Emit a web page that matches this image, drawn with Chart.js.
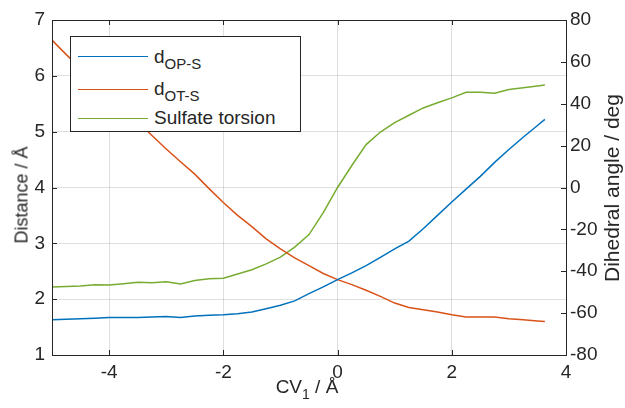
<!DOCTYPE html>
<html>
<head>
<meta charset="utf-8">
<script src="https://cdn.jsdelivr.net/npm/chart.js@4.4.1/dist/chart.umd.min.js"></script>
<style>
  body { margin: 0; background: #fff; }
  #wrap { position: relative; width: 625px; height: 408px; font-family: "Liberation Sans", Arial, Helvetica, sans-serif; color: #262626; }
  canvas { position: absolute; left: 0; top: 0; }
  .ttl { position: absolute; white-space: nowrap; font-size: 18px; transform: translate(-50%, -50%); }
  .rot { transform: translate(-50%, -50%) rotate(-90deg); }
  #legend { position: absolute; left: 70px; top: 36px; width: 229px; height: 94px; border: 1px solid #262626; background: #fff; }
  .row { position: absolute; left: 83px; font-size: 19px; line-height: 20px; white-space: nowrap; }
  .row sub { font-size: 15px; vertical-align: -6px; line-height: 0; }
  .swatch { position: absolute; left: 7px; width: 70px; height: 0; border-top: 1.5px solid; }
</style>
</head>
<body>
<div id="wrap">
  <canvas id="chart" width="625" height="408"></canvas>
  <div class="ttl rot" style="left:22px; top:195px;">Distance / Å</div>
  <div class="ttl rot" style="left:612px; top:188px; font-size:21px;">Dihedral angle / deg</div>
  <div class="ttl" style="left:307px; top:389px; font-size:19px;">CV<sub style="font-size:14px; vertical-align:-6px;">1</sub> / Å</div>
  <div id="legend">
    <div class="swatch" style="top:19px; border-color:#0072BD;"></div>
    <div class="row" style="top:10px;">d<sub>OP-S</sub></div>
    <div class="swatch" style="top:52px; border-color:#D95319;"></div>
    <div class="row" style="top:42px;">d<sub>OT-S</sub></div>
    <div class="swatch" style="top:81px; border-color:#77AC30;"></div>
    <div class="row" style="top:71px;">Sulfate torsion</div>
  </div>
</div>
<script>
// CV1 values (Å), shared by all three curves
const cv = [-5, -4.75, -4.5, -4.25, -4, -3.75, -3.5, -3.25, -3, -2.75, -2.5, -2.25,
  -2, -1.75, -1.5, -1.25, -1, -0.75, -0.5, -0.25, 0, 0.25, 0.5, 0.75,
  1, 1.25, 1.5, 1.75, 2, 2.25, 2.5, 2.75, 3, 3.25, 3.5, 3.63];

// d OP-S (Å)
const dOPS = [1.63, 1.64, 1.65, 1.66, 1.67, 1.67, 1.67, 1.68, 1.69, 1.67, 1.70, 1.71,
  1.72, 1.74, 1.77, 1.83, 1.89, 1.97, 2.10, 2.22, 2.35, 2.47, 2.60, 2.75,
  2.90, 3.04, 3.26, 3.50, 3.74, 3.97, 4.20, 4.45, 4.68, 4.90, 5.11, 5.22];

// d OT-S (Å)
const dOTS = [6.64, 6.38, 6.14, 5.90, 5.66, 5.42, 5.18, 4.93, 4.69, 4.46, 4.24, 3.98,
  3.73, 3.50, 3.30, 3.08, 2.90, 2.74, 2.60, 2.46, 2.35, 2.26, 2.16, 2.05,
  1.93, 1.85, 1.81, 1.77, 1.72, 1.68, 1.68, 1.68, 1.65, 1.63, 1.61, 1.60];

// sulfate torsion (deg), right axis
const torsion = [-47.5, -47.3, -47.0, -46.5, -46.6, -46.0, -45.3, -45.5, -45.0, -46.1, -44.4, -43.6,
  -43.3, -41.3, -39.3, -36.5, -33.3, -28.5, -22.5, -12.0, 0.0, 10.5, 20.5, 26.5,
  31.0, 34.5, 38.0, 40.5, 42.8, 45.5, 45.5, 45.0, 46.8, 47.6, 48.5, 49.0];

const xTicks = [-4, -2, 0, 2, 4];
const leftTicks = [1, 2, 3, 4, 5, 6, 7];
const rightTicks = [-80, -60, -40, -20, 0, 20, 40, 60, 80];

const axisColor = "#262626";
const gridColor = "rgba(38,38,38,0.15)";
const font = { family: '"Liberation Sans", Arial, Helvetica, sans-serif', size: 19 };

function pts(ys) {
  return cv.map((x, i) => ({ x: x, y: ys[i] }));
}

// box round the axes plus inward tick marks, like MATLAB
const boxPlugin = {
  id: "box",
  afterDatasetsDraw(chart) {
    const { ctx, chartArea: a, scales } = chart;
    const len = 5;
    ctx.save();
    ctx.strokeStyle = axisColor;
    ctx.lineWidth = 1;
    ctx.beginPath();
    scales.x.ticks.forEach(t => {
      const px = Math.round(scales.x.getPixelForValue(t.value)) + 0.5;
      ctx.moveTo(px, a.bottom); ctx.lineTo(px, a.bottom - len);
      ctx.moveTo(px, a.top); ctx.lineTo(px, a.top + len);
    });
    scales.y.ticks.forEach(t => {
      const py = Math.round(scales.y.getPixelForValue(t.value)) + 0.5;
      ctx.moveTo(a.left, py); ctx.lineTo(a.left + len, py);
    });
    scales.y1.ticks.forEach(t => {
      const py = Math.round(scales.y1.getPixelForValue(t.value)) + 0.5;
      ctx.moveTo(a.right, py); ctx.lineTo(a.right - len, py);
    });
    ctx.stroke();
    ctx.strokeRect(Math.round(a.left) + 0.5, Math.round(a.top) + 0.5,
      Math.round(a.right - a.left), Math.round(a.bottom - a.top));
    ctx.restore();
  }
};

new Chart(document.getElementById("chart"), {
  type: "line",
  data: {
    datasets: [
      { label: "dOP-S", data: pts(dOPS), borderColor: "#0072BD", yAxisID: "y" },
      { label: "dOT-S", data: pts(dOTS), borderColor: "#D95319", yAxisID: "y" },
      { label: "Sulfate torsion", data: pts(torsion), borderColor: "#77AC30", yAxisID: "y1" }
    ]
  },
  options: {
    responsive: false,
    animation: false,
    layout: { padding: { top: 20, left: 0, right: 0, bottom: 0 } },
    elements: {
      point: { radius: 0 },
      line: { borderWidth: 1.5, tension: 0, fill: false }
    },
    plugins: { legend: { display: false }, tooltip: { enabled: false } },
    scales: {
      x: {
        type: "linear",
        min: -5,
        max: 4,
        afterBuildTicks: s => { s.ticks = xTicks.map(v => ({ value: v })); },
        afterFit: s => { s.height = 53; },
        border: { display: false },
        grid: { color: gridColor, drawTicks: false },
        ticks: { font: font, color: axisColor, padding: 6, maxRotation: 0 }
      },
      y: {
        position: "left",
        min: 1,
        max: 7,
        afterBuildTicks: s => { s.ticks = leftTicks.map(v => ({ value: v })); },
        afterFit: s => { s.width = 52; },
        border: { display: false },
        grid: { color: gridColor, drawTicks: false },
        ticks: { font: font, color: axisColor, padding: 7 }
      },
      y1: {
        position: "right",
        min: -80,
        max: 80,
        afterBuildTicks: s => { s.ticks = rightTicks.map(v => ({ value: v })); },
        afterFit: s => { s.width = 59; },
        border: { display: false },
        grid: { display: false, drawTicks: false },
        ticks: { font: font, color: axisColor, padding: 4 }
      }
    }
  },
  plugins: [boxPlugin]
});
</script>
</body>
</html>
